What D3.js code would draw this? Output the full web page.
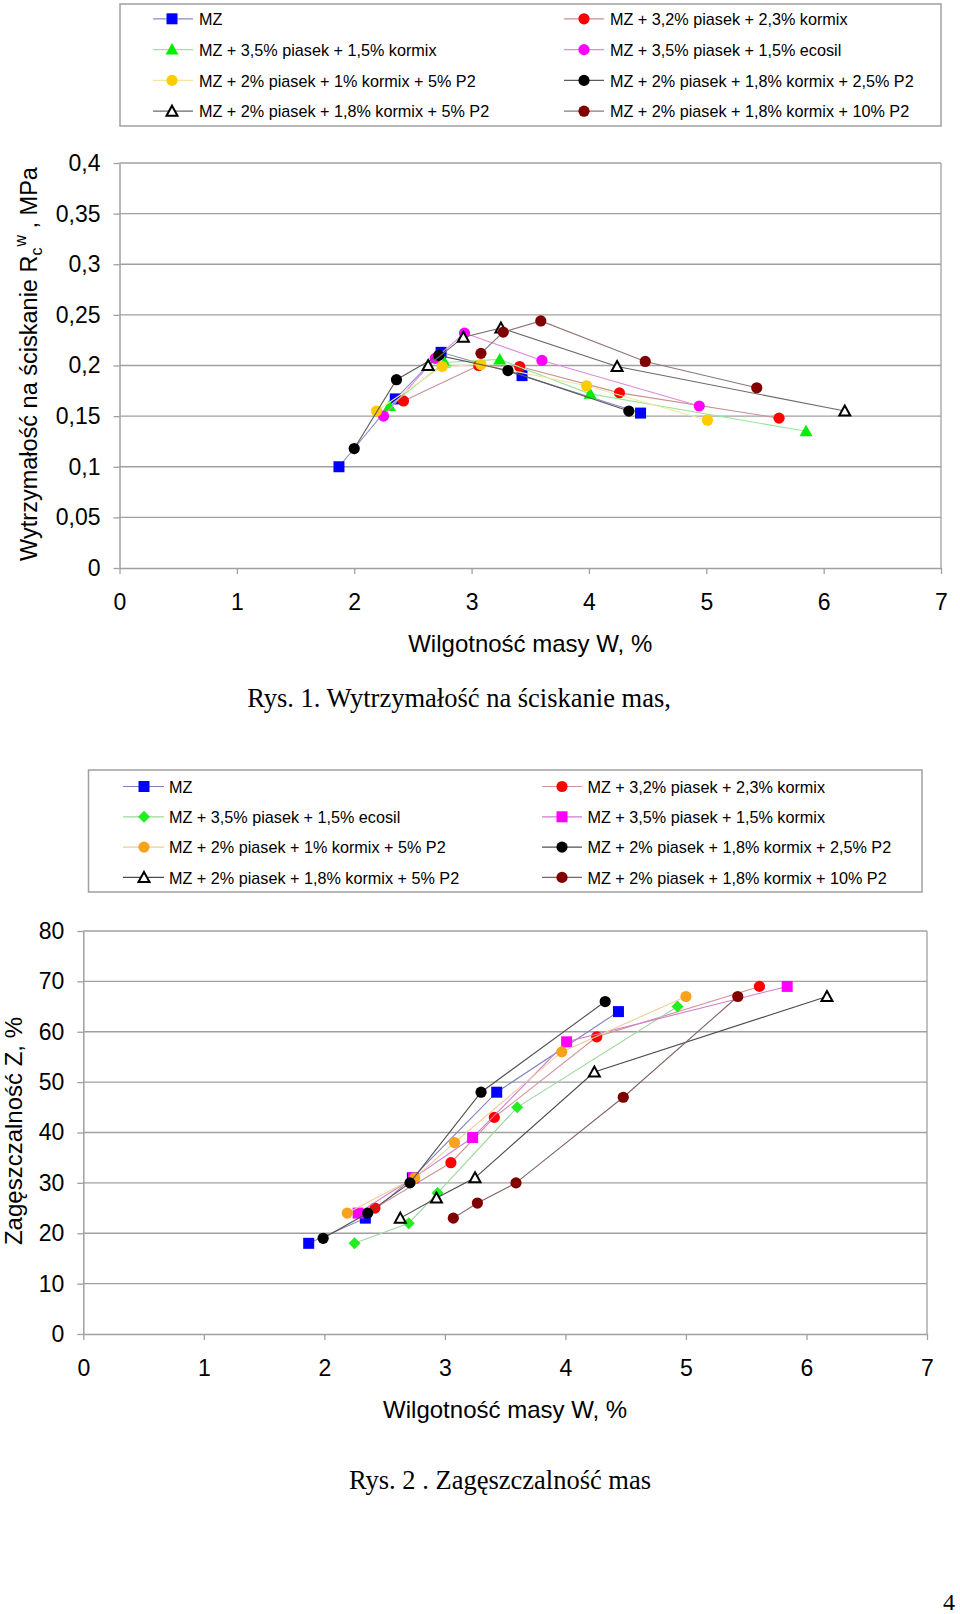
<!DOCTYPE html>
<html><head><meta charset="utf-8">
<script src="https://cdn.jsdelivr.net/npm/d3@7/dist/d3.min.js"></script>
<style>
html,body{margin:0;padding:0;background:#fff;}
svg{display:block;}
text{font-family:"Liberation Sans",Arial,sans-serif;fill:#000;}
.serif{font-family:"Liberation Serif","Times New Roman",serif;}
</style></head>
<body>
<svg id="page" width="960" height="1614"></svg>
<script>
// ---------- DATA ----------
const xTicks = [0, 1, 2, 3, 4, 5, 6, 7];
const xTickLabels = ["0", "1", "2", "3", "4", "5", "6", "7"];
const yTicks1 = [0, 0.05, 0.1, 0.15, 0.2, 0.25, 0.3, 0.35, 0.4];
const yTickLabels1 = ["0", "0,05", "0,1", "0,15", "0,2", "0,25", "0,3", "0,35", "0,4"];
const yTicks2 = [0, 10, 20, 30, 40, 50, 60, 70, 80];
const yTickLabels2 = ["0", "10", "20", "30", "40", "50", "60", "70", "80"];

// Chart 1: strength Rc (MPa) vs moisture W (%)
const names1 = ["MZ", "MZ + 3,2% piasek + 2,3% kormix", "MZ + 3,5% piasek + 1,5% kormix", "MZ + 3,5% piasek + 1,5% ecosil",
  "MZ + 2% piasek + 1% kormix + 5% P2", "MZ + 2% piasek + 1,8% kormix + 2,5% P2", "MZ + 2% piasek + 1,8% kormix + 5% P2", "MZ + 2% piasek + 1,8% kormix + 10% P2"];
const s1_MZ       = [[1.87, 0.100], [2.35, 0.167], [2.74, 0.213], [3.43, 0.190], [4.44, 0.153]];
const s1_red      = [[2.42, 0.165], [3.06, 0.200], [3.41, 0.199], [4.26, 0.173], [5.62, 0.148]];
const s1_green    = [[2.30, 0.160], [2.77, 0.203], [3.24, 0.206], [4.01, 0.172], [5.85, 0.135]];
const s1_magenta  = [[2.25, 0.150], [2.69, 0.207], [2.94, 0.232], [3.60, 0.205], [4.94, 0.160]];
const s1_yellow   = [[2.19, 0.155], [2.75, 0.199], [3.08, 0.201], [3.98, 0.180], [5.01, 0.146]];
const s1_black    = [[2.00, 0.118], [2.36, 0.186], [2.72, 0.210], [3.31, 0.195], [4.34, 0.155]];
const s1_triangle = [[2.63, 0.200], [2.93, 0.228], [3.25, 0.237], [4.24, 0.199], [6.18, 0.155]];
const s1_darkred  = [[3.08, 0.212], [3.27, 0.233], [3.59, 0.244], [4.48, 0.204], [5.43, 0.178]];

// Chart 2: compactability Z (%) vs moisture W (%)
const names2 = ["MZ", "MZ + 3,2% piasek + 2,3% kormix", "MZ + 3,5% piasek + 1,5% ecosil", "MZ + 3,5% piasek + 1,5% kormix",
  "MZ + 2% piasek + 1% kormix + 5% P2", "MZ + 2% piasek + 1,8% kormix + 2,5% P2", "MZ + 2% piasek + 1,8% kormix + 5% P2", "MZ + 2% piasek + 1,8% kormix + 10% P2"];
const s2_MZ       = [[1.87, 18], [2.34, 23], [2.73, 31], [3.43, 48], [4.44, 64]];
const s2_red      = [[2.42, 25], [3.05, 34], [3.41, 43], [4.26, 59], [5.61, 69]];
const s2_green    = [[2.25, 18], [2.70, 22], [2.94, 28], [3.60, 45], [4.93, 65]];
const s2_magenta  = [[2.28, 24], [2.74, 31], [3.23, 39], [4.01, 58], [5.84, 69]];
const s2_orange   = [[2.19, 24], [2.75, 31], [3.08, 38], [3.97, 56], [5.00, 67]];
const s2_black    = [[1.99, 19], [2.36, 24], [2.71, 30], [3.30, 48], [4.33, 66]];
const s2_triangle = [[2.63, 23], [2.93, 27], [3.25, 31], [4.24, 52], [6.17, 67]];
const s2_darkred  = [[3.07, 23], [3.27, 26], [3.59, 30], [4.48, 47], [5.43, 67]];

// ---------- STYLES ----------
const styles1 = [
  {shape: "square",   fill: "#0000ff", stroke: "none", line: "#8c8cc8"},
  {shape: "circle",   fill: "#ff0000", stroke: "none", line: "#c89090"},
  {shape: "triangle", fill: "#00ee00", stroke: "none", line: "#99e899"},
  {shape: "circle",   fill: "#ff00ff", stroke: "none", line: "#dc8cdc"},
  {shape: "circle",   fill: "#ffcc00", stroke: "none", line: "#f4e6a0"},
  {shape: "circle",   fill: "#000000", stroke: "none", line: "#5a5a5a"},
  {shape: "otriangle",fill: "#ffffff", stroke: "#000", line: "#6a6a6a"},
  {shape: "circle",   fill: "#800000", stroke: "none", line: "#8c7878"}
];
const styles2 = [
  {shape: "square",   fill: "#0000ff", stroke: "none", line: "#8080c0"},
  {shape: "circle",   fill: "#ff0000", stroke: "none", line: "#d09494"},
  {shape: "diamond",  fill: "#22ee22", stroke: "none", line: "#9cd89c"},
  {shape: "square",   fill: "#ff00ff", stroke: "none", line: "#d27ad2"},
  {shape: "circle",   fill: "#f7a21b", stroke: "none", line: "#f0cc98"},
  {shape: "circle",   fill: "#000000", stroke: "none", line: "#505050"},
  {shape: "otriangle",fill: "#ffffff", stroke: "#000", line: "#4a4a4a"},
  {shape: "circle",   fill: "#800000", stroke: "none", line: "#806464"}
];

function markerPath(shape) {
  switch (shape) {
    case "square": return "M-5.5,-5.5H5.5V5.5H-5.5Z";
    case "circle": return "M5.6,0A5.6,5.6 0 1 1 -5.6,0A5.6,5.6 0 1 1 5.6,0Z";
    case "triangle": return "M0,-6.5L6.5,5L-6.5,5Z";
    case "otriangle": return "M0,-5.5L5.5,4.5L-5.5,4.5Z";
    case "diamond": return "M0,-6L6,0L0,6L-6,0Z";
  }
}
function drawMarker(g, st, x, y) {
  g.append("path").attr("d", markerPath(st.shape))
    .attr("transform", `translate(${x},${y})`)
    .attr("fill", st.fill)
    .attr("stroke", st.stroke)
    .attr("stroke-width", st.shape === "otriangle" ? 2 : 0)
    .attr("stroke-linejoin", "miter");
}

const svg = d3.select("#page");
const GRID = "#a0a0a0";

function drawChart(cfg) {
  const x = d3.scaleLinear().domain([0, 7]).range([cfg.x0, cfg.x1]);
  const y = d3.scaleLinear().domain(cfg.yDomain).range([cfg.y0, cfg.y1]);
  const g = svg.append("g");

  // legend box
  g.append("rect").attr("x", cfg.leg.x).attr("y", cfg.leg.y).attr("width", cfg.leg.w).attr("height", cfg.leg.h)
    .attr("fill", "#fff").attr("stroke", GRID).attr("stroke-width", 1.5);
  cfg.names.forEach((n, i) => {
    const col = i % 2, row = Math.floor(i / 2);
    const L = cfg.leg.cols[col];
    const ly = cfg.leg.rowY[row];
    const st = cfg.styles[i];
    g.append("line").attr("x1", L.l0).attr("x2", L.l1).attr("y1", ly).attr("y2", ly)
      .attr("stroke", st.line).attr("stroke-width", 1.2);
    drawMarker(g, st, L.m, ly);
    g.append("text").attr("x", L.t).attr("y", ly).attr("dy", "0.38em")
      .attr("font-size", 16.2).text(n);
  });

  // gridlines
  g.selectAll(".grid").data(cfg.yTicks.filter(d => d > 0)).enter().append("line")
    .attr("x1", cfg.x0).attr("x2", cfg.x1).attr("y1", d => y(d)).attr("y2", d => y(d))
    .attr("stroke", GRID).attr("stroke-width", 1.3);
  // right border
  g.append("line").attr("x1", cfg.x1).attr("x2", cfg.x1).attr("y1", cfg.y0).attr("y2", cfg.y1)
    .attr("stroke", GRID).attr("stroke-width", 1.3);

  // axes
  const xa = g.append("g").attr("transform", `translate(0,${cfg.y0})`)
    .call(d3.axisBottom(x).tickValues(xTicks).tickFormat((d, i) => xTickLabels[i]).tickSize(6).tickSizeOuter(0).tickPadding(20));
  const ya = g.append("g").attr("transform", `translate(${cfg.x0},0)`)
    .call(d3.axisLeft(y).tickValues(cfg.yTicks).tickFormat((d, i) => cfg.yLabels[i]).tickSize(6).tickSizeOuter(0).tickPadding(13));
  [xa, ya].forEach(a => {
    a.select(".domain").attr("stroke", GRID).attr("stroke-width", 1.5);
    a.selectAll(".tick line").attr("stroke", GRID).attr("stroke-width", 1.3);
    a.selectAll(".tick text").attr("font-size", 23).attr("font-family", '"Liberation Sans",Arial,sans-serif').attr("fill", "#000");
  });

  // series
  const line = d3.line().x(d => x(d[0])).y(d => y(d[1]));
  cfg.series.forEach((s, i) => {
    const st = cfg.styles[i];
    g.append("path").attr("d", line(s)).attr("fill", "none").attr("stroke", st.line).attr("stroke-width", 1.1);
    s.forEach(p => drawMarker(g, st, x(p[0]), y(p[1])));
  });

  // x title
  g.append("text").attr("x", (cfg.x0 + cfg.x1) / 2 + cfg.xTitleDx).attr("y", cfg.xTitleY).attr("text-anchor", "middle")
    .attr("font-size", 24).text("Wilgotność masy W, %");
  // y title
  const yt = g.append("text").attr("transform", `translate(${cfg.yTitleX},${cfg.yTitleY}) rotate(-90)`)
    .attr("text-anchor", "middle").attr("dy", "0.36em").attr("font-size", cfg.yTitleSize);
  cfg.yTitle(yt);
  // caption
  g.append("text").attr("class", "serif").attr("x", cfg.capX).attr("y", cfg.capY).attr("text-anchor", "middle")
    .attr("font-size", 26.5).text(cfg.caption);
}

drawChart({
  x0: 119.5, x1: 941, y0: 568, y1: 163, yDomain: [0, 0.4],
  yTicks: yTicks1, yLabels: yTickLabels1,
  names: names1, styles: styles1,
  series: [s1_MZ, s1_red, s1_green, s1_magenta, s1_yellow, s1_black, s1_triangle, s1_darkred],
  leg: {x: 120, y: 4, w: 821, h: 122, rowY: [18.8, 49.6, 80.4, 111.2],
        cols: [{l0: 153, l1: 193, m: 172, t: 199}, {l0: 564, l1: 604, m: 584, t: 610}]},
  xTitleY: 652, xTitleDx: 0,
  yTitleX: 29, yTitleY: 364, yTitleSize: 23.5,
  yTitle: t => {
    t.append("tspan").text("Wytrzymałość na ściskanie R");
    t.append("tspan").attr("font-size", 16).attr("dy", "0.3em").text("c");
    t.append("tspan").attr("font-size", 16).attr("dy", "-1.0em").attr("dx", "1").text("w");
    t.append("tspan").attr("dy", "0.45em").text(" , MPa");
  },
  capX: 459, capY: 707, caption: "Rys. 1. Wytrzymałość na ściskanie mas,"
});

drawChart({
  x0: 83.3, x1: 927, y0: 1334, y1: 931, yDomain: [0, 80],
  yTicks: yTicks2, yLabels: yTickLabels2,
  names: names2, styles: styles2,
  series: [s2_MZ, s2_red, s2_green, s2_magenta, s2_orange, s2_black, s2_triangle, s2_darkred],
  leg: {x: 88.5, y: 770, w: 833.5, h: 122, rowY: [786.5, 816.8, 847.1, 877.4],
        cols: [{l0: 123, l1: 164, m: 144, t: 169}, {l0: 542, l1: 582, m: 562, t: 587.5}]},
  xTitleY: 1418, xTitleDx: 0,
  yTitleX: 13, yTitleY: 1131, yTitleSize: 24,
  yTitle: t => { t.text("Zagęszczalność Z, %"); },
  capX: 500, capY: 1489, caption: "Rys. 2 . Zagęszczalność mas"
});

// page number
svg.append("text").attr("class", "serif").attr("x", 949).attr("y", 1610).attr("text-anchor", "middle")
  .attr("font-size", 24).text("4");
</script>
</body></html>
